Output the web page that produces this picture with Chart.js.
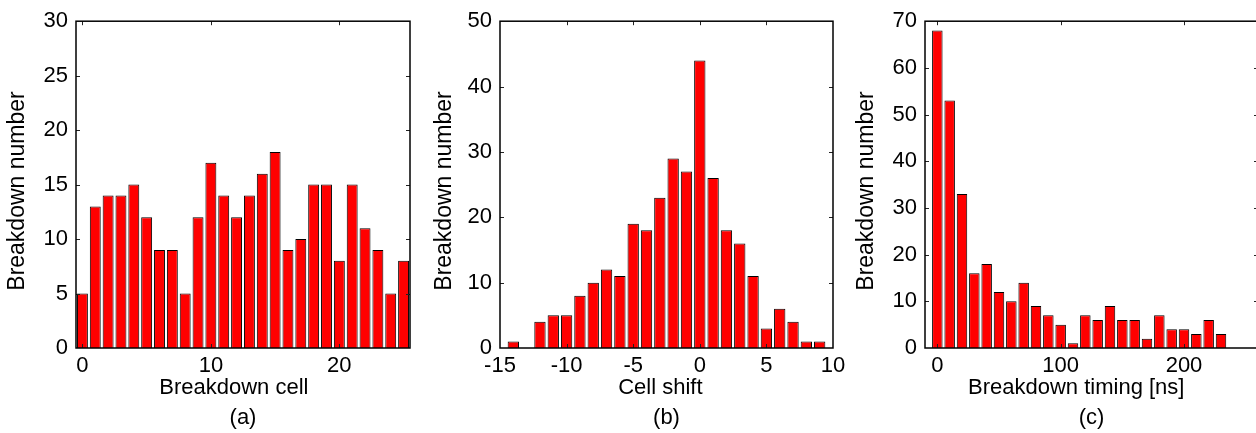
<!DOCTYPE html>
<html>
<head>
<meta charset="utf-8">
<script src="https://cdn.jsdelivr.net/npm/chart.js@4.4.1/dist/chart.umd.min.js"></script>
<style>
html, body { margin: 0; padding: 0; background: #fff; overflow: hidden; width: 1256px; height: 433px; }
canvas { position: absolute; top: 0; }
</style>
</head>
<body>
<canvas id="chartA" width="440" height="433" style="left:0px"></canvas>
<canvas id="chartB" width="440" height="433" style="left:420px"></canvas>
<canvas id="chartC" width="430" height="433" style="left:840px"></canvas>
<script>
// (a) breakdown cell histogram
const cellBins = [0, 1, 2, 3, 4, 5, 6, 7, 8, 9, 10, 11, 12, 13, 14, 15, 16, 17, 18, 19, 20, 21, 22, 23, 24, 25];
const cellCounts = [5, 13, 14, 14, 15, 12, 9, 9, 5, 12, 17, 14, 12, 14, 16, 18, 9, 10, 15, 15, 8, 15, 11, 9, 5, 8];
const cellTicksX = [0, 10, 20];

// (b) cell shift histogram
const shiftBins = [-14, -12, -11, -10, -9, -8, -7, -6, -5, -4, -3, -2, -1, 0, 1, 2, 3, 4, 5, 6, 7, 8, 9];
const shiftCounts = [1, 4, 5, 5, 8, 10, 12, 11, 19, 18, 23, 29, 27, 44, 26, 18, 16, 11, 3, 6, 4, 1, 1];
const shiftTicksX = [-15, -10, -5, 0, 5, 10];

// (c) breakdown timing histogram (ns)
const timingBins = [0, 10, 20, 30, 40, 50, 60, 70, 80, 90, 100, 110, 120, 130, 140, 150, 160, 170, 180, 190, 200, 210, 220, 230];
const timingCounts = [68, 53, 33, 16, 18, 12, 10, 14, 9, 7, 5, 1, 7, 6, 9, 6, 6, 2, 7, 4, 4, 3, 6, 3];
const timingTicksX = [0, 100, 200];

const FONT = "'Liberation Sans', Arial, Helvetica, sans-serif";

// box around the plot with small inward ticks on all four sides
const frameBox = {
    id: "frameBox",
    afterDatasetsDraw(chart) {
        const {ctx, chartArea: a, scales} = chart;
        ctx.save();
        ctx.strokeStyle = "#222";
        ctx.lineWidth = 1;
        const len = 4;
        scales.x.ticks.forEach(t => {
            const px = Math.round(scales.x.getPixelForValue(t.value)) + 0.5;
            if (px < a.left + 1 || px > a.right - 1) return;
            ctx.beginPath();
            ctx.moveTo(px, a.bottom); ctx.lineTo(px, a.bottom - len);
            ctx.moveTo(px, a.top); ctx.lineTo(px, a.top + len);
            ctx.stroke();
        });
        scales.y.ticks.forEach(t => {
            const py = Math.round(scales.y.getPixelForValue(t.value)) + 0.5;
            if (py < a.top + 1 || py > a.bottom - 1) return;
            ctx.beginPath();
            ctx.moveTo(a.left, py); ctx.lineTo(a.left + len, py);
            ctx.moveTo(a.right, py); ctx.lineTo(a.right - len, py);
            ctx.stroke();
        });
        ctx.strokeStyle = "#000";
        ctx.lineWidth = 1.5;
        ctx.strokeRect(a.left, a.top, a.right - a.left, a.bottom - a.top);
        ctx.restore();
    }
};

// trailing spaces nudge the centred titles a little, like in the original figure
function makeHist(id, bins, counts, xMin, xMax, xTicks, yMax, yStep, xTitle, tag, yWidth, padRight, yTitlePad){
    const ctx = document.getElementById(id).getContext("2d");
    const points = bins.map((b, i) => ({x: b, y: counts[i]}));
    return new Chart(ctx, {
        type: "bar",
        data: {
            datasets: [{
                data: points,
                backgroundColor: "#ff0000",
                borderColor: "#000",
                borderWidth: 1,
                borderSkipped: "start",
                barPercentage: 0.85,
                categoryPercentage: 1.0
            }]
        },
        options: {
            responsive: false,
            animation: false,
            layout: { padding: { top: 21, right: padRight, left: 0, bottom: 0 } },
            plugins: { legend: { display: false }, tooltip: { enabled: false } },
            scales: {
                x: {
                    type: "linear",
                    min: xMin,
                    max: xMax,
                    offset: false,
                    grid: { display: false, drawTicks: false },
                    border: { display: false },
                    afterBuildTicks: s => { s.ticks = xTicks.map(v => ({value: v})); },
                    afterFit: s => { s.height = 85; s.paddingLeft = 0; s.paddingRight = 0; },
                    ticks: { color: "#000", font: { family: FONT, size: 22 }, padding: 5, maxRotation: 0, autoSkip: false },
                    title: {
                        display: true,
                        text: [xTitle, tag],
                        color: "#000",
                        font: { family: FONT, size: 22, lineHeight: 1.36 },
                        padding: { top: 0, bottom: 0 }
                    }
                },
                y: {
                    min: 0,
                    max: yMax,
                    grid: { display: false, drawTicks: false },
                    border: { display: false },
                    afterFit: s => { s.width = yWidth; },
                    ticks: { stepSize: yStep, color: "#000", font: { family: FONT, size: 22 }, padding: 8 },
                    title: {
                        display: true,
                        text: "Breakdown number  ",
                        color: "#000",
                        font: { family: FONT, size: 23, lineHeight: 1.2 },
                        padding: { top: yTitlePad, bottom: 0 }
                    }
                }
            }
        },
        plugins: [frameBox]
    });
}

makeHist("chartA", cellBins, cellCounts, -0.5, 25.5, cellTicksX, 30, 5, "Breakdown cell   ", "(a)", 76, 30, 4);
makeHist("chartB", shiftBins, shiftCounts, -15, 10, shiftTicksX, 50, 10, "Cell shift  ", "(b)", 80, 27, 11);
makeHist("chartC", timingBins, timingCounts, -10, 260, timingTicksX, 70, 10, "Breakdown timing [ns]     ", "(c)", 85, 12, 13);
</script>
</body>
</html>
